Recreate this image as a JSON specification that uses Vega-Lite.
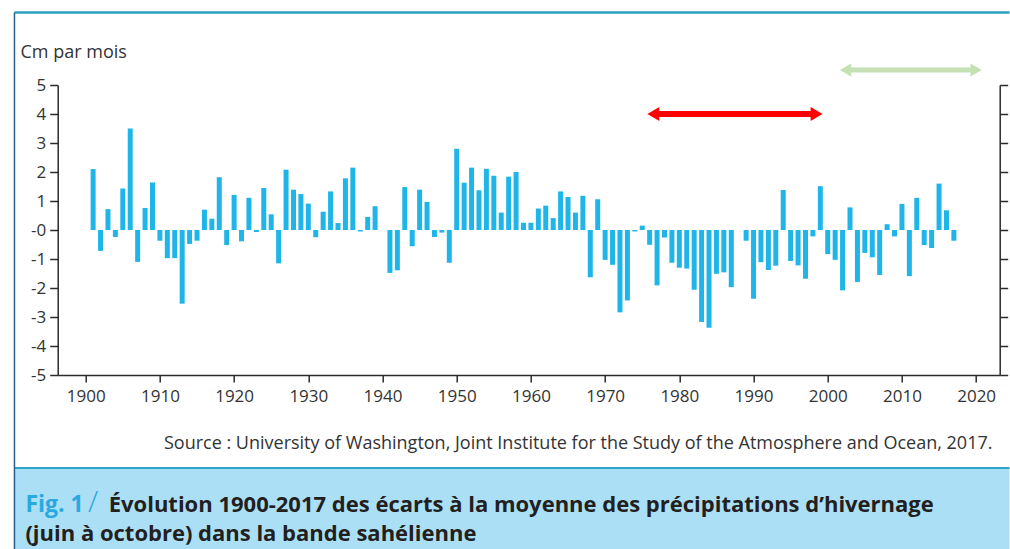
{
  "$schema": "https://vega.github.io/schema/vega-lite/v6.json",
  "width": 942,
  "height": 290,
  "autosize": "none",
  "padding": {"left": 57.7, "top": 85, "right": 10.3, "bottom": 174},
  "background": "#ffffff",
  "config": {
    "view": {"stroke": null},
    "font": "Open Sans",
    "axis": {"grid": false, "domainColor": "#2b2b2b", "tickColor": "#2b2b2b", "domainWidth": 1.5, "tickWidth": 1.5, "labelColor": "#333333", "labelFont": "Open Sans", "labelFontSize": 17, "titleFont": "Open Sans"}
  },
  "datasets": {
    "rain": [
      {"year": 1901, "value": 2.1}, {"year": 1902, "value": -0.72}, {"year": 1903, "value": 0.72}, {"year": 1904, "value": -0.24},
      {"year": 1905, "value": 1.43}, {"year": 1906, "value": 3.5}, {"year": 1907, "value": -1.1}, {"year": 1908, "value": 0.76},
      {"year": 1909, "value": 1.64}, {"year": 1910, "value": -0.37}, {"year": 1911, "value": -0.97}, {"year": 1912, "value": -0.97},
      {"year": 1913, "value": -2.54}, {"year": 1914, "value": -0.48}, {"year": 1915, "value": -0.37}, {"year": 1916, "value": 0.7},
      {"year": 1917, "value": 0.39}, {"year": 1918, "value": 1.82}, {"year": 1919, "value": -0.52}, {"year": 1920, "value": 1.21},
      {"year": 1921, "value": -0.39}, {"year": 1922, "value": 1.11}, {"year": 1923, "value": -0.07}, {"year": 1924, "value": 1.45},
      {"year": 1925, "value": 0.54}, {"year": 1926, "value": -1.15}, {"year": 1927, "value": 2.08}, {"year": 1928, "value": 1.39},
      {"year": 1929, "value": 1.24}, {"year": 1930, "value": 0.91}, {"year": 1931, "value": -0.25}, {"year": 1932, "value": 0.63},
      {"year": 1933, "value": 1.33}, {"year": 1934, "value": 0.24}, {"year": 1935, "value": 1.78}, {"year": 1936, "value": 2.15},
      {"year": 1937, "value": -0.05}, {"year": 1938, "value": 0.45}, {"year": 1939, "value": 0.82}, {"year": 1940, "value": 0},
      {"year": 1941, "value": -1.48}, {"year": 1942, "value": -1.39}, {"year": 1943, "value": 1.48}, {"year": 1944, "value": -0.56},
      {"year": 1945, "value": 1.39}, {"year": 1946, "value": 0.97}, {"year": 1947, "value": -0.24}, {"year": 1948, "value": -0.09},
      {"year": 1949, "value": -1.13}, {"year": 1950, "value": 2.8}, {"year": 1951, "value": 1.63}, {"year": 1952, "value": 2.15},
      {"year": 1953, "value": 1.37}, {"year": 1954, "value": 2.11}, {"year": 1955, "value": 1.87}, {"year": 1956, "value": 0.6},
      {"year": 1957, "value": 1.84}, {"year": 1958, "value": 2.0}, {"year": 1959, "value": 0.25}, {"year": 1960, "value": 0.25},
      {"year": 1961, "value": 0.74}, {"year": 1962, "value": 0.84}, {"year": 1963, "value": 0.41}, {"year": 1964, "value": 1.33},
      {"year": 1965, "value": 1.14}, {"year": 1966, "value": 0.6}, {"year": 1967, "value": 1.18}, {"year": 1968, "value": -1.63},
      {"year": 1969, "value": 1.06}, {"year": 1970, "value": -1.03}, {"year": 1971, "value": -1.2}, {"year": 1972, "value": -2.84},
      {"year": 1973, "value": -2.43}, {"year": 1974, "value": -0.05}, {"year": 1975, "value": 0.15}, {"year": 1976, "value": -0.51},
      {"year": 1977, "value": -1.91}, {"year": 1978, "value": -0.26}, {"year": 1979, "value": -1.13}, {"year": 1980, "value": -1.3},
      {"year": 1981, "value": -1.33}, {"year": 1982, "value": -2.06}, {"year": 1983, "value": -3.17}, {"year": 1984, "value": -3.37},
      {"year": 1985, "value": -1.51}, {"year": 1986, "value": -1.46}, {"year": 1987, "value": -1.97}, {"year": 1988, "value": 0},
      {"year": 1989, "value": -0.37}, {"year": 1990, "value": -2.37}, {"year": 1991, "value": -1.11}, {"year": 1992, "value": -1.38},
      {"year": 1993, "value": -1.23}, {"year": 1994, "value": 1.38}, {"year": 1995, "value": -1.07}, {"year": 1996, "value": -1.22},
      {"year": 1997, "value": -1.68}, {"year": 1998, "value": -0.22}, {"year": 1999, "value": 1.51}, {"year": 2000, "value": -0.83},
      {"year": 2001, "value": -1.03}, {"year": 2002, "value": -2.08}, {"year": 2003, "value": 0.78}, {"year": 2004, "value": -1.79},
      {"year": 2005, "value": -0.79}, {"year": 2006, "value": -0.94}, {"year": 2007, "value": -1.55}, {"year": 2008, "value": 0.2},
      {"year": 2009, "value": -0.22}, {"year": 2010, "value": 0.9}, {"year": 2011, "value": -1.59}, {"year": 2012, "value": 1.11},
      {"year": 2013, "value": -0.52}, {"year": 2014, "value": -0.62}, {"year": 2015, "value": 1.6}, {"year": 2016, "value": 0.68},
      {"year": 2017, "value": -0.37}
    ],
    "periods": [
      {"period": "sécheresse", "start": 1976.5, "end": 1998.5, "level": 4.0},
      {"period": "récent", "start": 2002.4, "end": 2020.0, "level": 5.52}
    ]
  },
  "resolve": {"axis": {"y": "independent"}},
  "layer": [
    {
      "data": {"name": "rain"},
      "mark": {"type": "bar", "orient": "vertical", "width": 5, "color": "#1fb5e8"},
      "encoding": {
        "x": {
          "field": "year", "type": "quantitative",
          "scale": {"domain": [1896.9, 2022.5], "nice": false, "zero": false},
          "axis": {
            "title": null,
            "values": [1900, 1905, 1910, 1915, 1920, 1925, 1930, 1935, 1940, 1945, 1950, 1955, 1960, 1965, 1970, 1975, 1980, 1985, 1990, 1995, 2000, 2005, 2010, 2015, 2020],
            "format": "d",
            "labelExpr": "datum.value % 10 === 0 ? '' + datum.value : ''",
            "tickSize": 7, "labelPadding": 6, "labelFlush": false, "labelOverlap": false
          }
        },
        "y": {
          "field": "value", "type": "quantitative",
          "scale": {"domain": [-5, 5], "nice": false, "zero": false},
          "axis": {
            "orient": "left",
            "values": [5, 4, 3, 2, 1, 0, -1, -2, -3, -4, -5],
            "labelExpr": "datum.value <= 0 ? '-' + abs(datum.value) : '' + datum.value",
            "tickSize": 8, "labelPadding": 4,
            "title": "Cm par mois",
            "titleAngle": 0, "titleAlign": "left", "titleBaseline": "alphabetic",
            "titleX": -37.7, "titleY": -28, "titleFontSize": 18, "titleFontWeight": "normal", "titleColor": "#333333"
          }
        },
        "y2": {"datum": 0}
      }
    },
    {
      "data": {"name": "periods"},
      "transform": [{"filter": "datum.period === 'sécheresse'"}],
      "mark": {"type": "rule", "color": "#ff0000", "strokeWidth": 6},
      "encoding": {
        "x": {"field": "start", "type": "quantitative"},
        "x2": {"field": "end"},
        "y": {"field": "level", "type": "quantitative", "axis": {"orient": "right", "values": [5, 4, 3, 2, 1, 0, -1, -2, -3, -4, -5], "labels": false, "title": null, "tickSize": 8}}
      }
    },
    {
      "data": {"name": "periods"},
      "transform": [{"filter": "datum.period === 'sécheresse'"}],
      "mark": {"type": "point", "shape": "triangle-left", "filled": true, "opacity": 1, "size": 190, "color": "#ff0000"},
      "encoding": {"x": {"field": "start", "type": "quantitative"}, "y": {"field": "level", "type": "quantitative", "axis": null}}
    },
    {
      "data": {"name": "periods"},
      "transform": [{"filter": "datum.period === 'sécheresse'"}],
      "mark": {"type": "point", "shape": "triangle-right", "filled": true, "opacity": 1, "size": 190, "color": "#ff0000"},
      "encoding": {"x": {"field": "end", "type": "quantitative"}, "y": {"field": "level", "type": "quantitative", "axis": null}}
    },
    {
      "data": {"name": "periods"},
      "transform": [{"filter": "datum.period === 'récent'"}],
      "mark": {"type": "rule", "color": "#c5e0b3", "strokeWidth": 5},
      "encoding": {
        "x": {"field": "start", "type": "quantitative"},
        "x2": {"field": "end"},
        "y": {"field": "level", "type": "quantitative", "axis": null}
      }
    },
    {
      "data": {"name": "periods"},
      "transform": [{"filter": "datum.period === 'récent'"}],
      "mark": {"type": "point", "shape": "triangle-left", "filled": true, "opacity": 1, "size": 170, "color": "#c5e0b3"},
      "encoding": {"x": {"field": "start", "type": "quantitative"}, "y": {"field": "level", "type": "quantitative", "axis": null}}
    },
    {
      "data": {"name": "periods"},
      "transform": [{"filter": "datum.period === 'récent'"}],
      "mark": {"type": "point", "shape": "triangle-right", "filled": true, "opacity": 1, "size": 170, "color": "#c5e0b3"},
      "encoding": {"x": {"field": "end", "type": "quantitative"}, "y": {"field": "level", "type": "quantitative", "axis": null}}
    },
    {
      "data": {"values": [{}]},
      "mark": {"type": "rect", "color": "#abdff5"},
      "encoding": {
        "x": {"datum": 1890.4, "type": "quantitative"},
        "x2": {"datum": 2024.5},
        "y": {"datum": -8.21, "type": "quantitative", "axis": null},
        "y2": {"datum": -11.6}
      }
    },
    {
      "data": {"values": [{}]},
      "mark": {"type": "rule", "color": "#2fa5cc", "strokeWidth": 2},
      "encoding": {
        "x": {"datum": 1890.4, "type": "quantitative"},
        "x2": {"datum": 2024.5},
        "y": {"datum": -8.21, "type": "quantitative", "axis": null}
      }
    },
    {
      "data": {"values": [{}]},
      "mark": {"type": "rule", "color": "#2a9fc6", "strokeWidth": 2.5},
      "encoding": {
        "x": {"datum": 1890.4, "type": "quantitative"},
        "x2": {"datum": 2024.5},
        "y": {"datum": 7.5, "type": "quantitative", "axis": null}
      }
    },
    {
      "data": {"values": [{}]},
      "mark": {"type": "rule", "color": "#25608f", "strokeWidth": 1.5},
      "encoding": {
        "x": {"datum": 1890.4, "type": "quantitative"},
        "y": {"datum": 7.5, "type": "quantitative", "axis": null},
        "y2": {"datum": -11.6}
      }
    },
    {
      "data": {"values": [{}]},
      "mark": {"type": "text", "text": "Source : University of Washington, Joint Institute for the Study of the Atmosphere and Ocean, 2017.", "align": "right", "baseline": "alphabetic", "font": "Open Sans", "fontSize": 18, "color": "#333333"},
      "encoding": {
        "x": {"datum": 2022.2, "type": "quantitative"},
        "y": {"datum": -7.55, "type": "quantitative", "axis": null}
      }
    },
    {
      "data": {"values": [{}]},
      "mark": {"type": "text", "text": "Fig. 1", "align": "left", "baseline": "alphabetic", "font": "Open Sans", "fontSize": 23, "fontWeight": "bold", "color": "#29a9e0"},
      "encoding": {
        "x": {"datum": 1891.87, "type": "quantitative"},
        "y": {"datum": -9.72, "type": "quantitative", "axis": null}
      }
    },
    {
      "data": {"values": [{}]},
      "mark": {"type": "text", "text": "/", "align": "center", "baseline": "alphabetic", "font": "Open Sans", "fontSize": 30, "fontWeight": 300, "color": "#29a9e0"},
      "encoding": {
        "x": {"datum": 1901.0, "type": "quantitative"},
        "y": {"datum": -9.72, "type": "quantitative", "axis": null}
      }
    },
    {
      "data": {"values": [{}]},
      "mark": {"type": "text", "text": "Évolution 1900-2017 des écarts à la moyenne des précipitations d’hivernage", "align": "left", "baseline": "alphabetic", "font": "Open Sans", "fontSize": 22, "fontWeight": "bold", "color": "#231f20"},
      "encoding": {
        "x": {"datum": 1903.1, "type": "quantitative"},
        "y": {"datum": -9.72, "type": "quantitative", "axis": null}
      }
    },
    {
      "data": {"values": [{}]},
      "mark": {"type": "text", "text": "(juin à octobre) dans la bande sahélienne", "align": "left", "baseline": "alphabetic", "font": "Open Sans", "fontSize": 22, "fontWeight": "bold", "color": "#231f20"},
      "encoding": {
        "x": {"datum": 1891.87, "type": "quantitative"},
        "y": {"datum": -10.72, "type": "quantitative", "axis": null}
      }
    }
  ]
}
